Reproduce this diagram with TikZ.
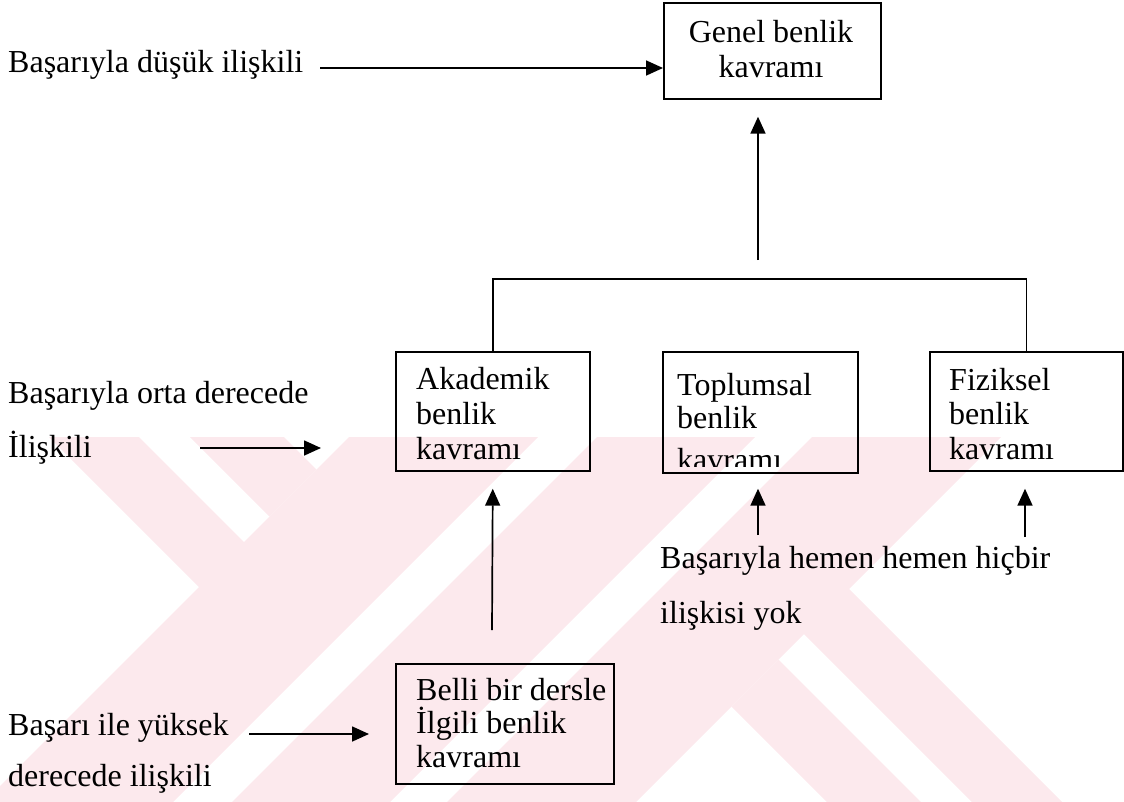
\documentclass[tikz,border=0pt]{standalone}
\usepackage{fontspec}
\setmainfont{Liberation Serif}
\usetikzlibrary{arrows.meta}
\definecolor{wm}{RGB}{252,233,237}
\begin{document}
\begin{tikzpicture}[x=1pt,y=-1pt,
  box/.style={draw, line width=1.7pt, rectangle, inner sep=0pt, anchor=north west},
  txt/.style={anchor=base west, inner sep=0pt, font=\fontsize{32}{34}\selectfont},
  ctxt/.style={anchor=base, inner sep=0pt, font=\fontsize{32}{34}\selectfont},
  arr/.style={line width=1.7pt, -{Triangle[length=17pt,width=15pt]}},
  ln/.style={line width=1.7pt}]
\useasboundingbox (0,0) rectangle (1124,801);
% watermark
\begin{scope}
\clip (0,437) rectangle (1124,801);
\fill[wm] (486,300) -- (675,300) -- (75,900) -- (-114,900) -- cycle;
\fill[wm] (734,300) -- (892,300) -- (292,900) -- (134,900) -- cycle;
\fill[wm] (949,300) -- (1138,300) -- (538,900) -- (349,900) -- cycle;
\fill[wm] (731.5,706.5) -- (778.5,659.5) -- (1019,900) -- (925,900) -- cycle;
\fill[wm] (802,632) -- (847,587) -- (1160,900) -- (1070,900) -- cycle;
\fill[wm] (316.5,469.5) -- (269.5,516.5) -- (29,276) -- (123,276) -- cycle;
\fill[wm] (246,544) -- (201,589) -- (-112,276) -- (-22,276) -- cycle;
\end{scope}
% boxes
\node[box, minimum width=217pt, minimum height=96pt] (gen) at (663,2) {};
\node[box, minimum width=194pt, minimum height=119pt] (ak) at (395,351) {};
\node[box, minimum width=195pt, minimum height=121pt] (tp) at (662,351) {};
\node[box, minimum width=193pt, minimum height=119pt] (fz) at (929,351) {};
\node[box, minimum width=218pt, minimum height=120pt] (bl) at (395,663) {};
% box texts
\node[ctxt] (gen1) at (771,42) {Genel benlik};
\node[ctxt] (gen2) at (771,77) {kavramı};
\node[txt] (ak1) at (416,389) {Akademik};
\node[txt] (ak2) at (416,424) {benlik};
\node[txt] (ak3) at (416,459) {kavramı};
\node[txt] (tp1) at (677,395) {Toplumsal};
\node[txt] (tp2) at (677,428) {benlik};
\begin{scope}
\clip (662,440) rectangle (857,466);
\node[txt] (tp3) at (677,470) {kavramı};
\end{scope}
\node[txt] (fz1) at (949,390) {Fiziksel};
\node[txt] (fz2) at (949,424) {benlik};
\node[txt] (fz3) at (949,459) {kavramı};
\node[txt] (bl1) at (416,700) {Belli bir dersle};
\node[txt] (bl2) at (416,733) {İlgili benlik};
\node[txt] (bl3) at (416,767) {kavramı};
% side labels
\node[txt] (l1) at (8,72) {Başarıyla düşük ilişkili};
\node[txt] (l2a) at (8,403) {Başarıyla orta derecede};
\node[txt] (l2b) at (8,457) {İlişkili};
\node[txt] (l3a) at (8,735) {Başarı ile yüksek};
\node[txt] (l3b) at (8,786) {derecede ilişkili};
\node[txt] (l4a) at (660,568) {Başarıyla hemen hemen hiçbir};
\node[txt] (l4b) at (660,623) {ilişkisi yok};
% connectors
\coordinate (s1) at (320,68);
\draw[arr] (s1) -- (s1 -| gen.west);
\coordinate (s2) at (758,260);
\draw[arr, shorten >=17pt] (s2) -- (s2 |- gen.south);
\draw[ln] (ak.north) -- ++(0,-72) -| (fz.north);
\coordinate (s3) at (200,448);
\draw[arr, shorten >=74pt] (s3) -- (s3 -| ak.west);
\coordinate (s4) at (492,630);
\draw[arr, shorten >=17pt] (s4) -- (ak.south);
\coordinate (s5) at (758,535);
\draw[arr, shorten >=15pt] (s5) -- (s5 |- tp.south);
\coordinate (s6) at (1025,537);
\draw[arr, shorten >=17pt] (s6) -- (s6 |- fz.south);
\coordinate (s7) at (249,734);
\draw[arr, shorten >=26pt] (s7) -- (s7 -| bl.west);
\end{tikzpicture}
\end{document}
